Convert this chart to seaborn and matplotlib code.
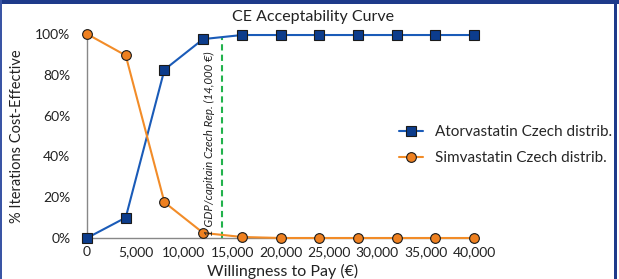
import matplotlib
matplotlib.use("Agg")
import matplotlib.pyplot as plt
import seaborn as sns
import pandas as pd
from matplotlib.patches import Rectangle
from matplotlib.ticker import FuncFormatter

wtp = [0, 4000, 8000, 12000, 16000, 20000, 24000, 28000, 32000, 36000, 40000]
atorva = [0, 10, 82.5, 97.5, 99.5, 99.5, 99.5, 99.5, 99.5, 99.5, 99.5]
simva = [100, 89.5, 17.5, 2.5, 0.5, 0, 0, 0, 0, 0, 0]
labels = ["Atorvastatin Czech distrib.", "Simvastatin Czech distrib."]
threshold = 14000
threshold_label = "1 GDP/capitain Czech Rep. (14,000 €)"

df = pd.DataFrame({"wtp": wtp * 2,
                   "pct": atorva + simva,
                   "series": [labels[0]] * len(wtp) + [labels[1]] * len(wtp)})

sns.set_style("white")
plt.rcParams["font.family"] = ["Lato", "DejaVu Sans"]

fig = plt.figure(figsize=(6.19, 2.79), dpi=100)
ax = fig.add_axes([87/619, 1-238/279, (478-87)/619, (238-34)/279])

colors = {labels[0]: "#1a5bb8", labels[1]: "#f28c28"}
face = {labels[0]: "#0c3c8c", labels[1]: "#ee8020"}
markers = {labels[0]: "s", labels[1]: "o"}
for lab in labels:
    sub = df[df.series == lab]
    sns.lineplot(data=sub, x="wtp", y="pct", ax=ax, color=colors[lab],
                 marker=markers[lab], markersize=7, markerfacecolor=face[lab],
                 markeredgecolor="#1a1a1a", markeredgewidth=0.8, lw=1.5,
                 label=lab, clip_on=False, zorder=3)

ax.axvline(threshold, ymin=0, ymax=0.98, color="#22b24c", ls=(0, (3, 2)), lw=1.5, zorder=2)
ax.text(threshold - 1300, 46, threshold_label, rotation=90, ha="center", va="center",
        fontsize=8.3, style="italic", color="#222222")

ax.set_xlim(0, 40400)
ax.set_ylim(0, 100)
ax.set_xticks(range(0, 40001, 5000))
ax.set_yticks(range(0, 101, 20))
ax.xaxis.set_major_formatter(FuncFormatter(lambda v, p: f"{int(v):,}"))
ax.yaxis.set_major_formatter(FuncFormatter(lambda v, p: f"{int(v)}%"))
ax.tick_params(axis="both", labelsize=10, colors="#222222", length=0)
ax.tick_params(axis="y", pad=12)
ax.tick_params(axis="x", pad=6)
ax.set_xlabel("Willingness to Pay (€)", fontsize=11.5, color="#222222", labelpad=4)
ax.set_ylabel("% Iterations Cost-Effective", fontsize=10.5, color="#222222", labelpad=8)
ax.set_title("CE Acceptability Curve", fontsize=11.5, color="#222222", pad=9,
             x=(313-87)/391)
for s in ["top", "right"]:
    ax.spines[s].set_visible(False)
for s in ["left", "bottom"]:
    ax.spines[s].set_color("#888888")
    ax.spines[s].set_linewidth(1)

ax.legend(loc="center left", frameon=False,
          fontsize=11, handlelength=1.6, labelspacing=0.8, handletextpad=0.8)
leg = ax.get_legend()
leg.set_bbox_to_anchor((385/619, 1-145/279), transform=fig.transFigure)

# figure border
fig.patches.append(Rectangle((0, 1-4/279), 1, 4/279, transform=fig.transFigure,
                             facecolor="#1e3a8a", edgecolor="none"))
fig.patches.append(Rectangle((0, 0), 2/619, 1, transform=fig.transFigure,
                             facecolor="#3a55a5", edgecolor="none"))
fig.patches.append(Rectangle((614/619, 0), 3/619, 1, transform=fig.transFigure,
                             facecolor="#1e3a8a", edgecolor="none"))

fig.savefig("out.png", dpi=100)
